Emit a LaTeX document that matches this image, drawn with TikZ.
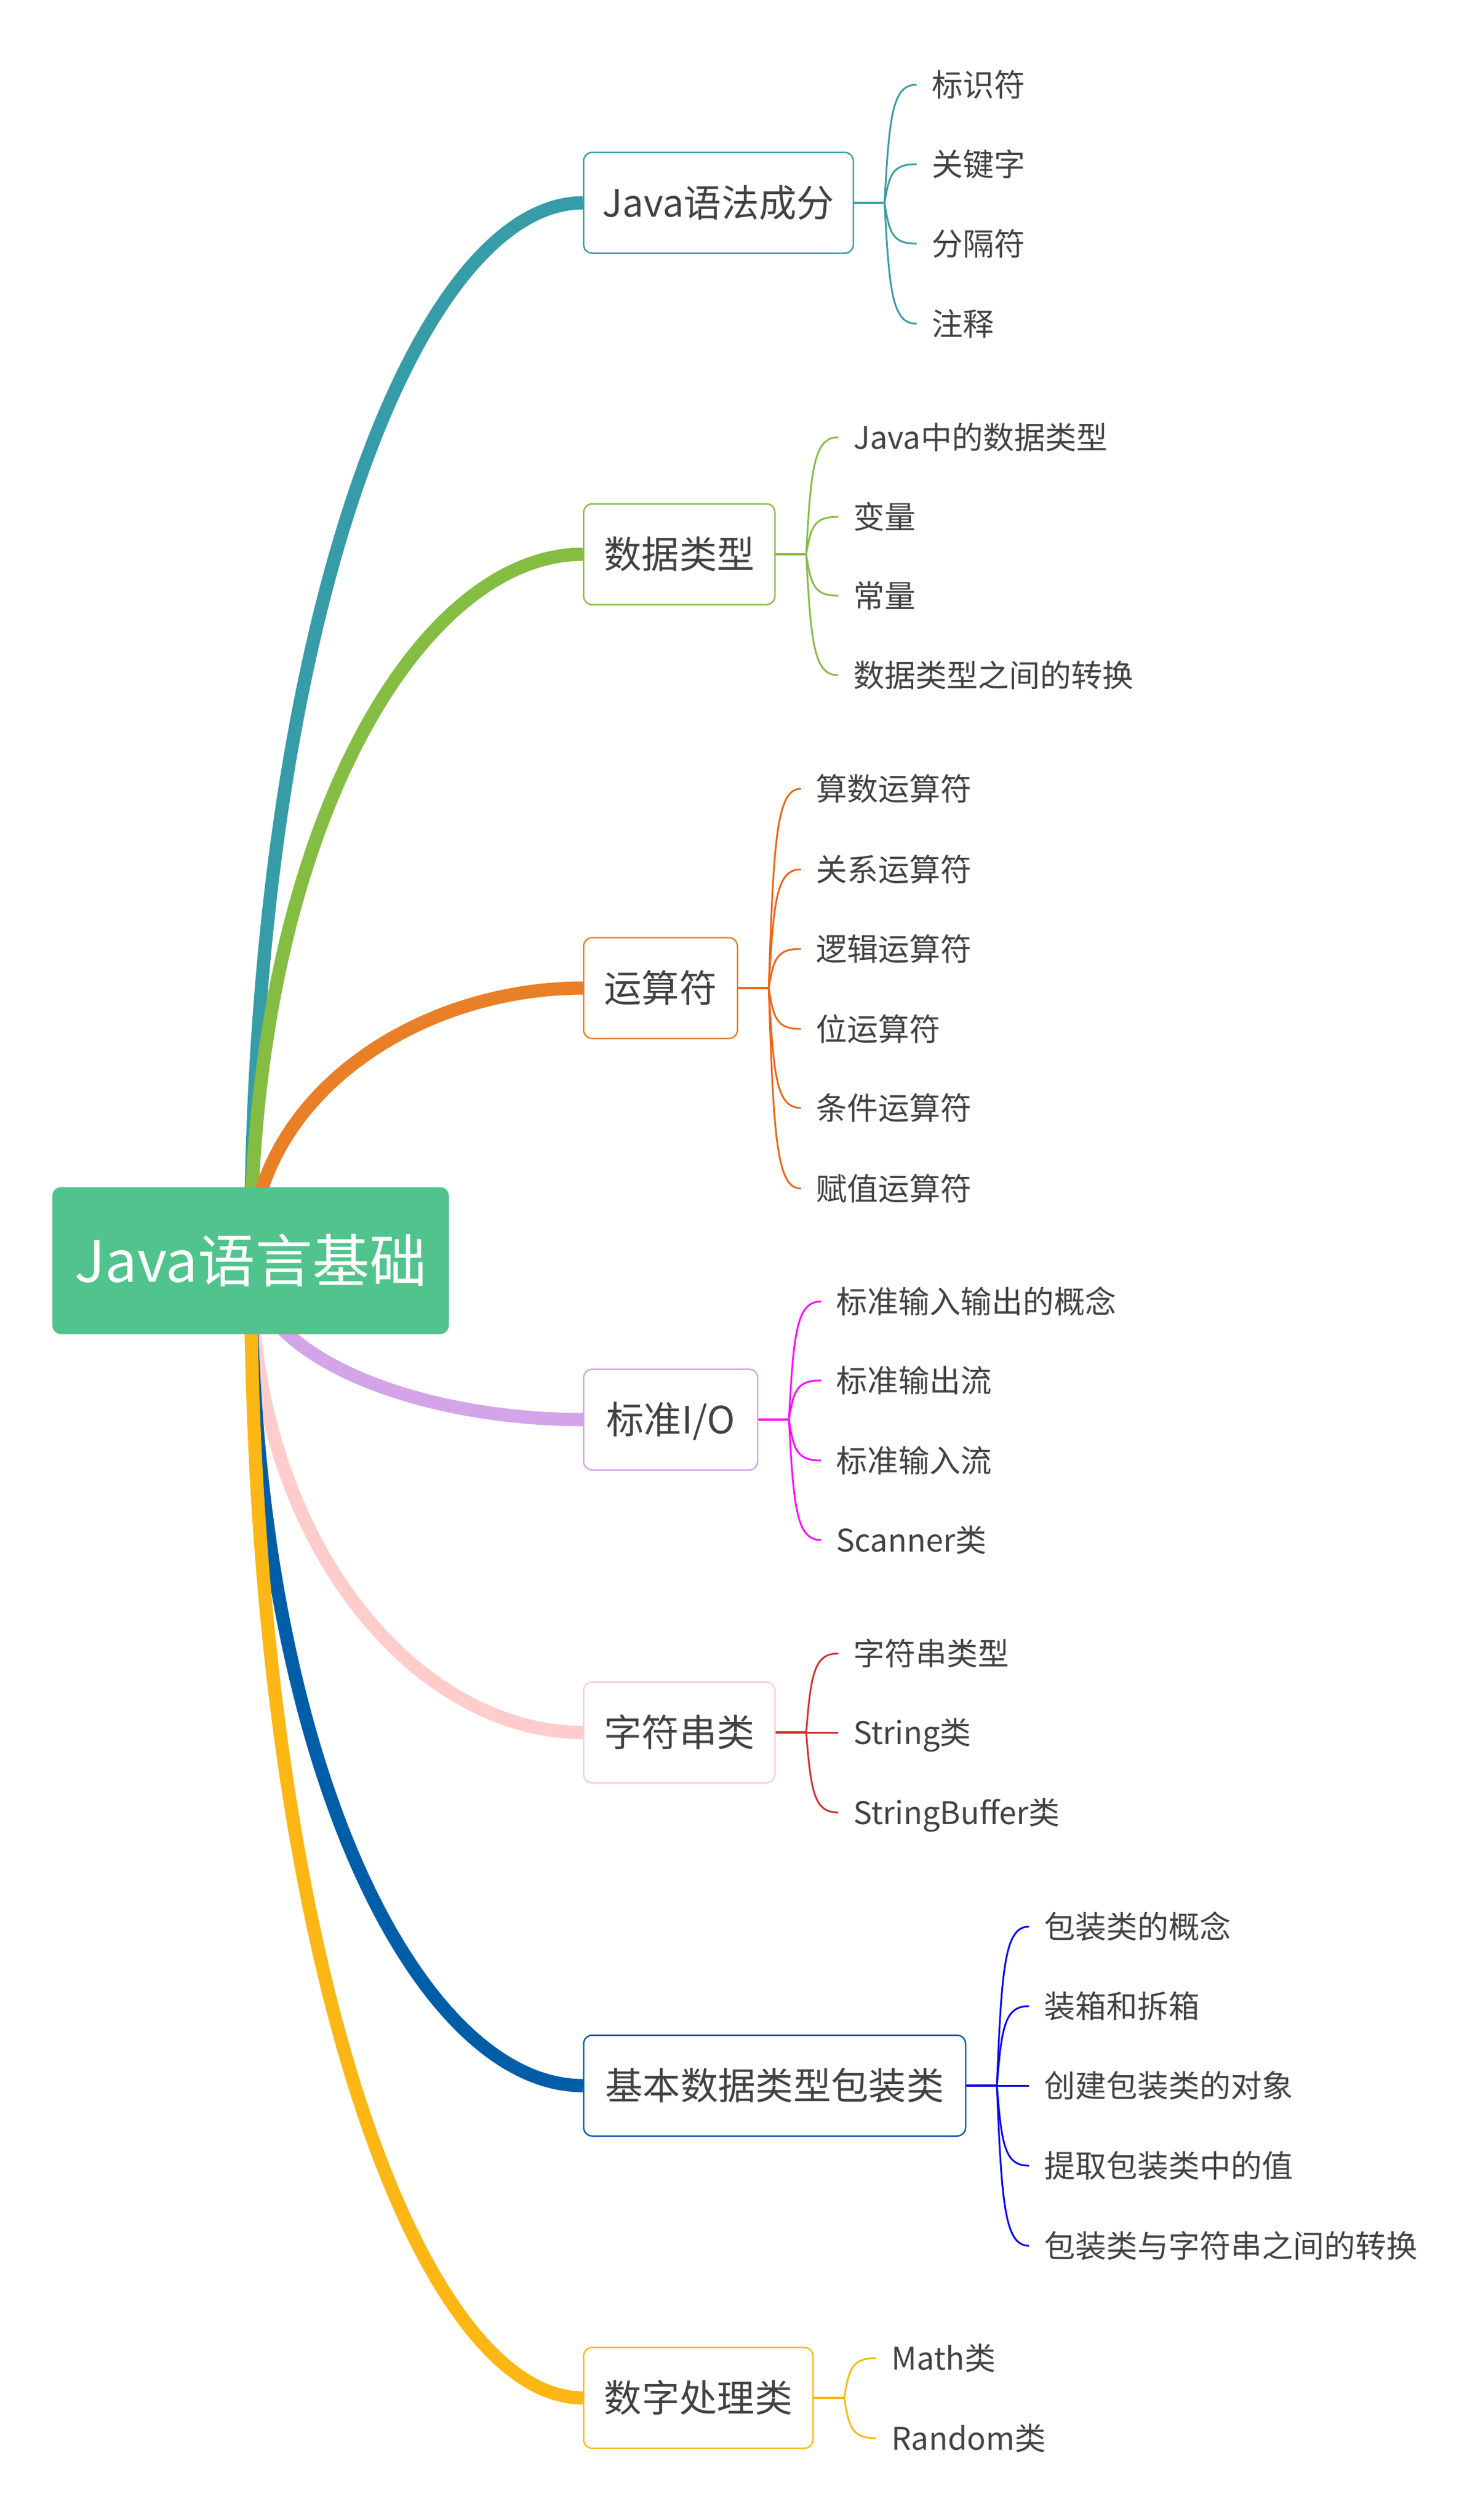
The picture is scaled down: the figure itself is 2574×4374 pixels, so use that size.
\documentclass[tikz,border=0pt]{standalone}
\usepackage{fontspec}
\setmainfont{Noto Sans CJK SC}
\usetikzlibrary{calc}
\pgfdeclarelayer{bglayer}
\pgfdeclarelayer{linelayer}
\pgfsetlayers{bglayer,linelayer,main}
\definecolor{tealc}{HTML}{359CA8}
\definecolor{greenc}{HTML}{84BD41}
\definecolor{orangec}{HTML}{E97F27}
\definecolor{orangeleaf}{HTML}{EF6414}
\definecolor{purplec}{HTML}{D4A4E9}
\definecolor{magentac}{HTML}{FF00FF}
\definecolor{pinkc}{HTML}{FFCCCC}
\definecolor{redleaf}{HTML}{D42F2F}
\definecolor{bluec}{HTML}{005EA8}
\definecolor{blueleaf}{HTML}{0000EE}
\definecolor{yellowc}{HTML}{FDB714}
\definecolor{rootc}{HTML}{51C38C}
\definecolor{textc}{HTML}{424242}
\newcommand\branchcurve[3]{%
  \draw[branchline,#1] let \p1=(#2), \p2=(#3) in
    (\p1) .. controls (\x1,{\y1+0.6*(\y2-\y1)}) and ({\x1+0.5*(\x2-\x1)},\y2) .. (\p2);}
\newcommand\leafcurve[3]{%
  \draw[leafline,#1] let \p1=(#2), \p2=(#3) in
    (\p1) .. controls ({\x1+0.15*(\x2-\x1)},{\y2+0.25*(\y1-\y2)}) and ({\x1+0.25*(\x2-\x1)},\y2) .. (\p2);}
\tikzset{
  rootbox/.style={fill=rootc, rounded corners=4.5pt, inner sep=0pt,
    minimum width=206.4pt, minimum height=76.5pt, text=white,
    font=\fontsize{29.8}{34}\selectfont, text height=25pt, text depth=2.4pt},
  topic/.style={draw=#1, fill=white, line width=0.75pt, rounded corners=4.5pt,
    inner sep=0pt, minimum height=52.5pt, text=textc,
    font=\fontsize{19.6}{24}\selectfont, text height=16.5pt, text depth=1.6pt},
  leaf/.style={anchor=west, inner xsep=7.8pt, inner ysep=2pt, text=textc,
    font=\fontsize{16.2}{20}\selectfont, text height=13.6pt, text depth=1.3pt},
  branchline/.style={line width=6.9pt},
  leafline/.style={line width=0.9pt},
  stubline/.style={line width=1.1pt}
}
\begin{document}
\begin{tikzpicture}[x=0.3pt,y=-0.3pt]
\begin{pgfonlayer}{bglayer}
  \fill[white] (0,0) rectangle (2574,4374);
\end{pgfonlayer}
\useasboundingbox (0,0) rectangle (2574,4374);

% root
\node[rootbox] (root) at (435,2188) {Java语言基础};

% topics
\node[topic=tealc,   minimum width=140.4pt] (b1) at (1247,352)    {Java语法成分};
\node[topic=greenc,  minimum width=99.6pt]  (b2) at (1179,962)    {数据类型};
\node[topic=orangec, minimum width=80.1pt]  (b3) at (1146.5,1715) {运算符};
\node[topic=purplec, minimum width=90.6pt]  (b4) at (1164,2464)   {标准I/O};
\node[topic=pinkc,   minimum width=99.6pt]  (b5) at (1179,3007)   {字符串类};
\node[topic=bluec,   minimum width=198.9pt] (b6) at (1344.5,3620) {基本数据类型包装类};
\node[topic=yellowc, minimum width=119.4pt] (b7) at (1212,4162)   {数字处理类};

% split points
\foreach \i in {1,...,7}{\coordinate (s\i) at ($(b\i.east)+(53,0)$);}

% leaves
\node[leaf] (l11) at (1591,147) {标识符};
\node[leaf] (l12) at (1591,285) {关键字};
\node[leaf] (l13) at (1591,423) {分隔符};
\node[leaf] (l14) at (1591,562) {注释};

\node[leaf] (l21) at (1455,759)  {Java中的数据类型};
\node[leaf] (l22) at (1455,897)  {变量};
\node[leaf] (l23) at (1455,1034) {常量};
\node[leaf] (l24) at (1455,1172) {数据类型之间的转换};

\node[leaf] (l31) at (1390,1369) {算数运算符};
\node[leaf] (l32) at (1390,1509) {关系运算符};
\node[leaf] (l33) at (1390,1647) {逻辑运算符};
\node[leaf] (l34) at (1390,1786) {位运算符};
\node[leaf] (l35) at (1390,1923) {条件运算符};
\node[leaf] (l36) at (1390,2063) {赋值运算符};

\node[leaf] (l41) at (1425,2259) {标准输入输出的概念};
\node[leaf] (l42) at (1425,2396) {标准输出流};
\node[leaf] (l43) at (1425,2535) {标准输入流};
\node[leaf] (l44) at (1425,2673) {Scanner类};

\node[leaf] (l51) at (1455,2870) {字符串类型};
\node[leaf] (l52) at (1455,3007) {String类};
\node[leaf] (l53) at (1455,3146) {StringBuffer类};

\node[leaf] (l61) at (1786,3344) {包装类的概念};
\node[leaf] (l62) at (1786,3482) {装箱和拆箱};
\node[leaf] (l63) at (1786,3620) {创建包装类的对象};
\node[leaf] (l64) at (1786,3759) {提取包装类中的值};
\node[leaf] (l65) at (1786,3898) {包装类与字符串之间的转换};

\node[leaf] (l71) at (1521,4093) {Math类};
\node[leaf] (l72) at (1521,4232) {Random类};

\begin{pgfonlayer}{linelayer}
  % main branches
  \branchcurve{tealc}{root.center}{b1.west}
  \branchcurve{greenc}{root.center}{b2.west}
  \branchcurve{orangec}{root.center}{b3.west}
  \branchcurve{purplec}{root.center}{b4.west}
  \branchcurve{pinkc}{root.center}{b5.west}
  \branchcurve{bluec}{root.center}{b6.west}
  \branchcurve{yellowc}{root.center}{b7.west}
  % stubs
  \draw[stubline,tealc]    (b1.east) -- (s1);
  \draw[stubline,greenc]   (b2.east) -- (s2);
  \draw[stubline,orangeleaf] (b3.east) -- (s3);
  \draw[stubline,magentac] (b4.east) -- (s4);
  \draw[stubline,redleaf]  (b5.east) -- (s5);
  \draw[stubline,blueleaf] (b6.east) -- (s6);
  \draw[stubline,yellowc]  (b7.east) -- (s7);
  % leaf connectors
  \foreach \j in {1,...,4}{\leafcurve{tealc}{s1}{l1\j.west}}
  \foreach \j in {1,...,4}{\leafcurve{greenc}{s2}{l2\j.west}}
  \foreach \j in {1,...,6}{\leafcurve{orangeleaf}{s3}{l3\j.west}}
  \foreach \j in {1,...,4}{\leafcurve{magentac}{s4}{l4\j.west}}
  \foreach \j in {1,...,3}{\leafcurve{redleaf}{s5}{l5\j.west}}
  \foreach \j in {1,...,5}{\leafcurve{blueleaf}{s6}{l6\j.west}}
  \foreach \j in {1,...,2}{\leafcurve{yellowc}{s7}{l7\j.west}}
\end{pgfonlayer}
\end{tikzpicture}
\end{document}
